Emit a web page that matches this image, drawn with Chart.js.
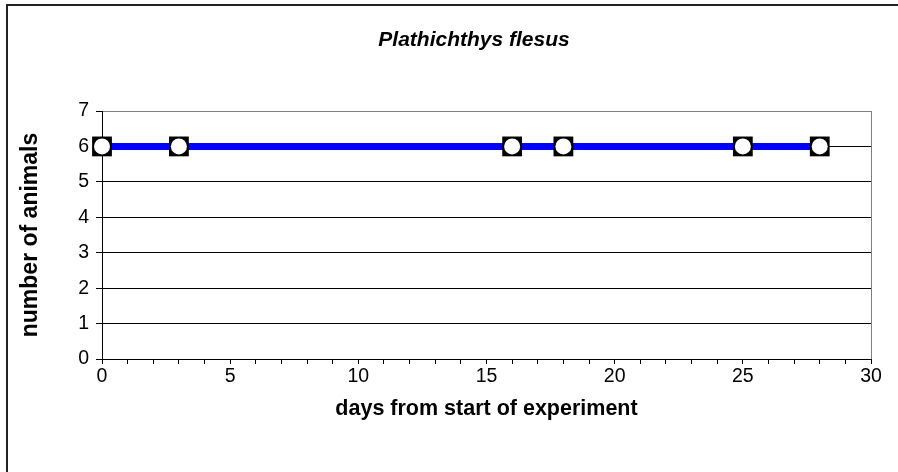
<!DOCTYPE html>
<html lang="en">
<head>
    <meta charset="UTF-8">
    <title>Plathichthys flesus</title>
    <style>
        html, body { margin: 0; padding: 0; background: #fff; }
        #wrap { width: 898px; height: 472px; position: relative; }
    </style>
    <script src="https://cdn.jsdelivr.net/npm/chart.js"></script>
</head>
<body>
    <div id="wrap">
        <canvas id="fishChart" width="898" height="472"></canvas>
    </div>

    <script>
        // data
        const chartTitle = "Plathichthys flesus";
        const days = [0, 3, 16, 18, 25, 28];
        const animals = [6, 6, 6, 6, 6, 6];
        const xMin = 0, xMax = 30, xLabelStep = 5;
        const yMin = 0, yMax = 7;

        const points = days.map((d, i) => ({ x: d, y: animals[i] }));

        Chart.defaults.font.family = '"Liberation Sans", Arial, sans-serif';
        Chart.defaults.color = '#000';

        // frame (left + top edge) and the italic title
        const framePlugin = {
            id: 'frame',
            beforeDraw(chart) {
                const ctx = chart.ctx;
                ctx.save();
                ctx.fillStyle = '#fff';
                ctx.fillRect(0, 0, chart.width, chart.height);
                ctx.strokeStyle = '#222';
                ctx.lineWidth = 2;
                ctx.beginPath();
                ctx.moveTo(7, chart.height + 2);
                ctx.lineTo(7, 5);
                ctx.lineTo(chart.width + 2, 5);
                ctx.stroke();
                ctx.restore();
            },
            afterDraw(chart) {
                const ctx = chart.ctx;
                ctx.save();
                ctx.font = 'italic bold 21px "Liberation Sans", Arial, sans-serif';
                ctx.fillStyle = '#000';
                ctx.textAlign = 'center';
                ctx.textBaseline = 'middle';
                ctx.fillText(chartTitle, 474, 40);
                ctx.restore();
            }
        };

        new Chart(document.getElementById('fishChart'), {
            type: 'line',
            data: {
                datasets: [
                    {
                        // white dots on top of the squares
                        data: points,
                        showLine: false,
                        pointStyle: 'circle',
                        pointRadius: 8,
                        pointBackgroundColor: '#fff',
                        pointBorderWidth: 0,
                        clip: false,
                        order: 1
                    },
                    {
                        data: points,
                        borderColor: '#0000ff',
                        borderWidth: 7,
                        pointStyle: 'rect',
                        pointRadius: 14,
                        pointBackgroundColor: '#000',
                        pointBorderWidth: 0,
                        clip: false,
                        order: 2
                    }
                ]
            },
            options: {
                responsive: false,
                animation: false,
                events: [],
                layout: { padding: { top: 111, right: 27, left: 0, bottom: 0 } },
                plugins: {
                    legend: { display: false },
                    tooltip: { enabled: false }
                },
                scales: {
                    x: {
                        type: 'linear',
                        min: xMin,
                        max: xMax,
                        ticks: {
                            stepSize: 1,
                            autoSkip: false,
                            maxRotation: 0,
                            padding: 1,
                            font: { size: 19.5 },
                            callback: v => (v % xLabelStep === 0 ? v : '')
                        },
                        grid: {
                            drawOnChartArea: true,
                            color: c => (c.tick && c.tick.value === xMax ? '#808080' : 'rgba(0,0,0,0)'),
                            tickColor: '#000',
                            tickLength: 5
                        },
                        border: { color: '#000', width: 1 },
                        title: {
                            display: true,
                            text: 'days from start of experiment',
                            font: { size: 21.5, weight: 'bold' },
                            padding: { top: 6, bottom: 50 }
                        },
                        afterFit(scale) {
                            scale.height = 113;
                        }
                    },
                    y: {
                        min: yMin,
                        max: yMax,
                        ticks: {
                            stepSize: 1,
                            padding: 7,
                            font: { size: 19.5 }
                        },
                        grid: {
                            color: c => (c.tick && c.tick.value === yMax ? '#808080' : '#000'),
                            tickColor: '#000',
                            tickLength: 6
                        },
                        border: { color: '#000', width: 1 },
                        title: {
                            display: true,
                            text: 'number of animals',
                            font: { size: 23, weight: 'bold' },
                            padding: { top: 17, bottom: 0 }
                        },
                        afterFit(scale) {
                            scale.width = 102;
                        }
                    }
                }
            },
            plugins: [framePlugin]
        });
    </script>
</body>
</html>
